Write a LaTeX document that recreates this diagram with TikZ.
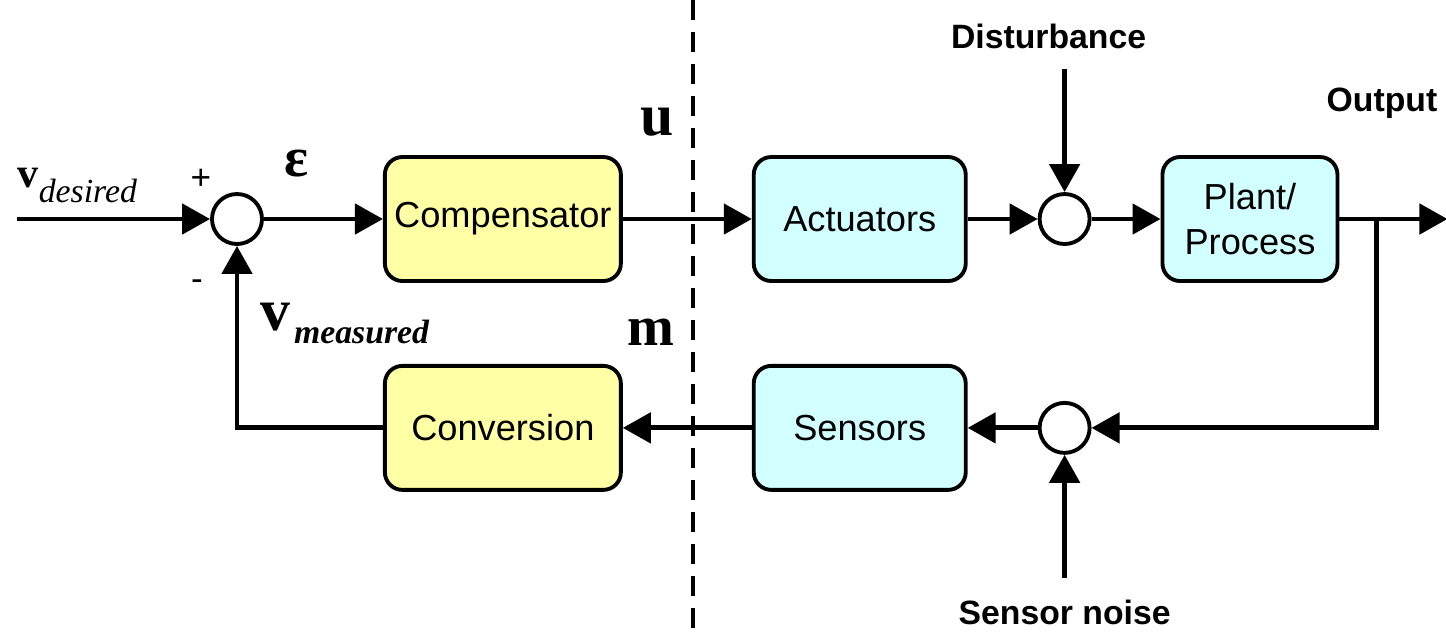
\documentclass[tikz,border=0pt]{standalone}
\usepackage{fontspec}
\setmainfont{Liberation Serif}
\setsansfont{Liberation Sans}
\usetikzlibrary{arrows.meta, positioning, calc}
\definecolor{ctrlyellow}{RGB}{255,255,165}
\definecolor{plantcyan}{RGB}{210,255,255}

\begin{document}
\begin{tikzpicture}[
    block/.style={rectangle, draw=black, fill=#1, line width=1.1pt, rounded corners=5pt, minimum height=1.24cm, minimum width=2.1cm, inner xsep=1pt, align=center, font=\sffamily\fontsize{10.3}{12.8}\selectfont},
    block/.default={plantcyan},
    sumnode/.style={circle, draw=black, fill=white, line width=1.1pt, minimum size=0.5cm, inner sep=0pt},
    arrow/.style={-{Triangle[length=0.28cm, width=0.3cm]}, line width=1.4pt},
    sig/.style={font=\sffamily\bfseries\fontsize{9.6}{11}\selectfont, inner sep=1pt},
    sym/.style={font=\rmfamily\bfseries\fontsize{#1}{#1}\selectfont, inner sep=0pt},
    sym/.default={16},
    divider/.style={line width=1.1pt, dash pattern=on 0.2cm off 0.12cm},
]
\useasboundingbox (0,0) rectangle (14.46,-6.37);

% ── Forward path ──
\node[sumnode] (sum1) at (2.37,-2.19) {};
\node[block=ctrlyellow, right=1.19cm of sum1, minimum width=2.36cm] (comp) {Compensator};
\node[block, right=1.29cm of comp, minimum width=2.12cm] (act) {Actuators};
\node[sumnode, right=0.70cm of act] (sum2) {};
\node[block, right=0.69cm of sum2, minimum width=1.75cm] (plant) {Plant/\\Process};
\coordinate[right=1.08cm of plant] (out_end);
\coordinate (branch) at ($(plant.east)+(0.37,0)$);

% ── Feedback path ──
\node[block, below=0.81cm of act, minimum width=2.12cm] (sens) {Sensors};
\node[block=ctrlyellow, below=0.81cm of comp, minimum width=2.36cm] (conv) {Conversion};
\node[sumnode] (sum3) at (sum2 |- sens) {};

% ── External inputs ──
\node[sig, above=1.23cm of sum2, xshift=-0.16cm, inner ysep=0.2cm] (dist) {Disturbance};
\node[sig, below=1.23cm of sum3, inner ysep=0.22cm] (noise) {Sensor noise};
\node[sig] (outlbl) at (13.82,-1.03) {Output};

% ── Signal labels ──
\node[anchor=base west, inner sep=0pt] (vdes) at (0.17,-1.87) {\fontsize{12}{12}\selectfont\bfseries v\raisebox{-4.3pt}{\fontsize{9.6}{9.6}\selectfont\mdseries\itshape desired}};
\node[anchor=base west, inner sep=0pt] (vmeas) at (2.60,-3.30) {\fontsize{17}{17}\selectfont\bfseries v\kern1pt\raisebox{-3.7pt}{\fontsize{9.6}{9.6}\selectfont\itshape measured}};
\node[sym] (eps) at (2.97,-1.64) {ε};
\node[sym=17] (ulbl) at (6.57,-1.22) {u};
\node[sym=16] (mlbl) at (6.51,-3.32) {m};
\node[font=\sffamily\fontsize{10}{10}\selectfont, inner sep=0pt] (plus) at (2.01,-1.79) {+};
\node[font=\sffamily\fontsize{10}{10}\selectfont, inner sep=0pt] (minus) at (1.97,-2.85) {-};

% ── Arrows: forward path ──
\coordinate (v_in) at (0.17,-2.19);
\draw[arrow] (v_in) -- (sum1);
\draw[arrow] (sum1) -- (comp);
\draw[arrow] (comp) -- (act);
\draw[arrow] (act) -- (sum2);
\draw[arrow] (sum2) -- (plant);
\draw[arrow] (plant) -- (out_end);
\draw[arrow] (dist.south -| sum2.north) -- (sum2);

% ── Arrows: feedback path ──
\draw[arrow] (branch) |- (sum3);
\draw[arrow] (noise) -- (sum3);
\draw[arrow] (sum3) -- (sens);
\draw[arrow] (sens) -- (conv);
\draw[arrow] (conv.west) -| (sum1.south);

% ── Controller / plant divider ──
\coordinate (div_top) at (6.93,0);
\coordinate (div_bot) at (6.93,-6.37);
\draw[divider] (div_top) -- (div_bot);

\end{tikzpicture}
\end{document}
